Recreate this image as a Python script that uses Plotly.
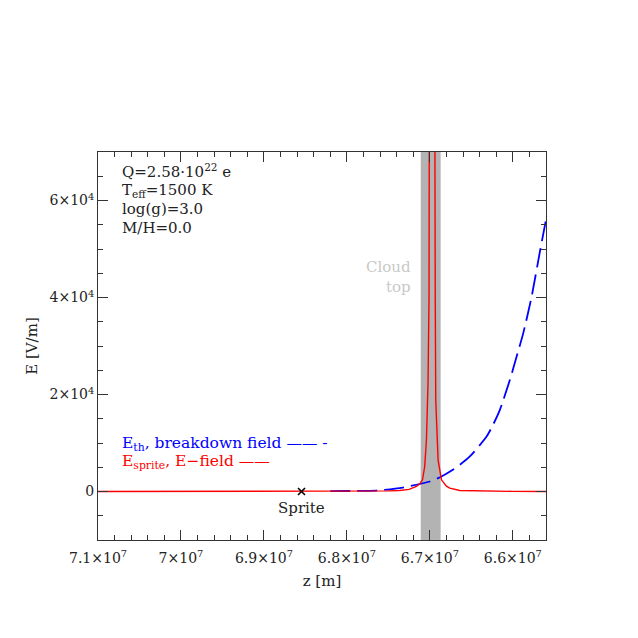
import plotly.graph_objects as go

# ---- data ----
blue_z = [6.82e7, 6.80e7, 6.7645e7, 6.7327e7, 6.7001e7, 6.6860e7, 6.6723e7,
          6.6639e7, 6.6518e7, 6.6316e7, 6.6237e7, 6.6156e7, 6.6035e7, 6.5954e7,
          6.5874e7, 6.5773e7, 6.5673e7, 6.5600e7]
blue_E = [60, 100, 200, 820, 2060, 3090, 4470,
          5500, 7220, 11340, 13800, 16840, 23030, 27840,
          32660, 40200, 49500, 56020]

red_z = [7.10e7, 6.90e7, 6.80e7, 6.75e7, 6.7363e7, 6.725e7, 6.7162e7, 6.712e7,
         6.7089e7, 6.7062e7, 6.7041e7, 6.7022e7, 6.7010e7, 6.6977e7, 6.6945e7,
         6.6935e7, 6.6929e7, 6.6901e7, 6.686e7, 6.680e7, 6.676e7, 6.6639e7,
         6.64e7, 6.60e7, 6.56e7]
red_E = [0, 20, 60, 120, 200, 450, 1030, 1600,
         2410, 5150, 10660, 22400, 39500, 400000, 120000,
         40000, 18900, 6530, 2410, 1100, 700, 200,
         80, 20, 10]

sprite_z = [6.8547e7]
sprite_E = [0]

cloud_top = [6.711e7, 6.687e7]

x_range = [7.1e7, 6.56e7]
y_range = [-10000, 70000]
x_tickvals = [7.1e7, 7.0e7, 6.9e7, 6.8e7, 6.7e7, 6.6e7]
x_ticktext = ["7.1×10<sup>7</sup>", "7×10<sup>7</sup>", "6.9×10<sup>7</sup>",
              "6.8×10<sup>7</sup>", "6.7×10<sup>7</sup>", "6.6×10<sup>7</sup>"]
y_tickvals = [0, 20000, 40000, 60000]
y_ticktext = ["0", "2×10<sup>4</sup>", "4×10<sup>4</sup>", "6×10<sup>4</sup>"]

FONT = "DejaVu Serif"
TXT = "#222222"

fig = go.Figure()
fig.add_shape(type="rect", xref="x", yref="paper", x0=cloud_top[0], x1=cloud_top[1],
              y0=0, y1=1, fillcolor="#b3b3b3", line_width=0, layer="below")

fig.add_trace(go.Scatter(x=blue_z, y=blue_E, mode="lines",
                         line=dict(color="#0000ff", width=1.8, dash="20px,7px",
                                   shape="spline", smoothing=0.6)))
fig.add_trace(go.Scatter(x=red_z, y=red_E, mode="lines",
                         line=dict(color="#ff0000", width=1.4)))
fig.add_trace(go.Scatter(x=sprite_z, y=sprite_E, mode="markers",
                         marker=dict(symbol="x-thin", size=7, color="black",
                                     line=dict(width=1.6, color="black"))))

axis_common = dict(showline=True, linecolor="#333333", linewidth=1, mirror="allticks",
                   ticks="inside", ticklen=10, tickcolor="#333333", showgrid=False,
                   zeroline=False, tickfont=dict(family=FONT, size=14, color=TXT))
fig.update_xaxes(range=x_range, tickvals=x_tickvals, ticktext=x_ticktext,
                 ticklabelstandoff=5,
                 minor=dict(ticks="inside", ticklen=5, dtick=2e5, tickcolor="#333333"),
                 title=dict(text="z [m]", font=dict(family=FONT, size=15, color=TXT), standoff=10),
                 **axis_common)
fig.update_yaxes(range=y_range, tickvals=y_tickvals, ticktext=y_ticktext,
                 minor=dict(ticks="inside", ticklen=5, dtick=5000, tickcolor="#333333"),
                 title=dict(text="E [V/m]", font=dict(family=FONT, size=15, color=TXT), standoff=8),
                 **axis_common)

ann = []
info = ["Q=2.58·10<sup>22</sup> e", "T<sub>eff</sub>=1500 K", "log(g)=3.0", "M/H=0.0"]
for i, t in enumerate(info):
    ann.append(dict(xref="paper", yref="paper", x=0.048, y=0.95 - i * 0.049, text=t,
                    showarrow=False, xanchor="left", yanchor="middle",
                    font=dict(family=FONT, size=15, color=TXT)))
ann.append(dict(xref="paper", yref="paper", x=0.703, y=0.677, text="Cloud<br>top",
                showarrow=False, xanchor="right", yanchor="middle", align="right",
                font=dict(family=FONT, size=15, color="#c8c8c8")))
ann.append(dict(xref="paper", yref="paper", x=0.048, y=0.248,
                text="E<sub>th</sub>, breakdown field —— -",
                showarrow=False, xanchor="left", yanchor="middle",
                font=dict(family=FONT, size=15.5, color="#0000ff")))
ann.append(dict(xref="paper", yref="paper", x=0.048, y=0.2,
                text="E<sub>sprite</sub>, E−field ——",
                showarrow=False, xanchor="left", yanchor="middle",
                font=dict(family=FONT, size=15.5, color="#ff0000")))
ann.append(dict(xref="x", yref="y", x=sprite_z[0], y=sprite_E[0], text="Sprite",
                showarrow=False, xanchor="center", yanchor="middle", yshift=-16,
                font=dict(family=FONT, size=15, color=TXT)))

fig.update_layout(width=638, height=638, showlegend=False,
                  margin=dict(l=98, r=92, t=152, b=98),
                  plot_bgcolor="white", paper_bgcolor="white",
                  annotations=ann)
fig.write_html("out.html")
